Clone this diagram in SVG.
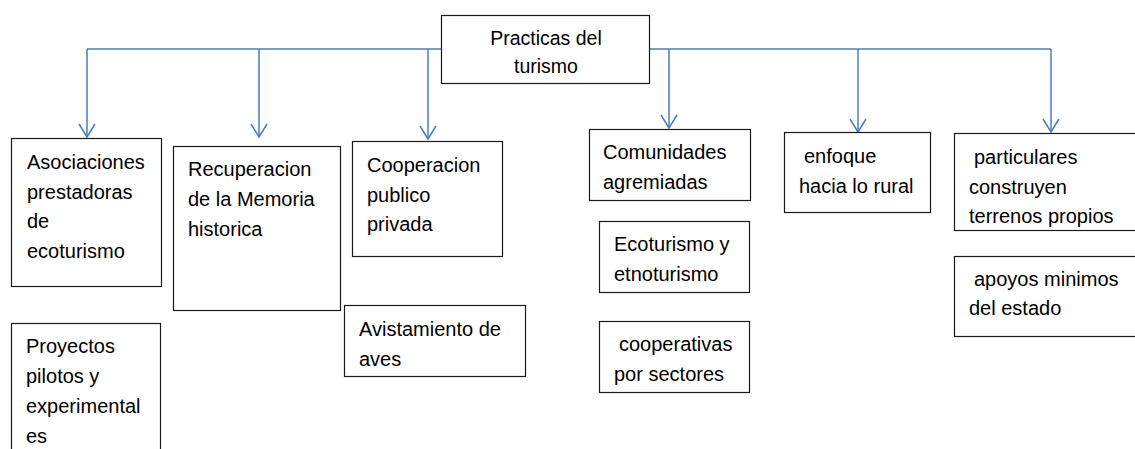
<svg xmlns="http://www.w3.org/2000/svg" width="1135" height="449" viewBox="0 0 1135 449">
<style>
.box{fill:#fff;stroke:#1a1a1a;stroke-width:1.2}
.t{font-family:"Liberation Sans",Arial,sans-serif;font-size:20px;fill:#000}
.c{text-anchor:middle;font-size:19.5px}
.ln{fill:none;stroke:#4a7ebb;stroke-width:1.5}
</style>
<defs>
<marker id="ah" markerUnits="userSpaceOnUse" markerWidth="20" markerHeight="20" refX="0" refY="0" orient="auto" overflow="visible">
<path d="M-13,-8 L0,0 L-13,8" fill="none" stroke="#4a7ebb" stroke-width="1.5"/>
</marker>
</defs>
<rect width="1135" height="449" fill="#fff"/>
<g id="connectors">
<path class="ln" d="M87,49 H441 M650,49 H1051"/>
<path class="ln" d="M87,49 V137" marker-end="url(#ah)"/>
<path class="ln" d="M259,49 V137" marker-end="url(#ah)"/>
<path class="ln" d="M428,49 V139" marker-end="url(#ah)"/>
<path class="ln" d="M669,49 V128" marker-end="url(#ah)"/>
<path class="ln" d="M858,49 V132" marker-end="url(#ah)"/>
<path class="ln" d="M1051,49 V132" marker-end="url(#ah)"/>
</g>
<g id="root">
<rect class="box" x="441.5" y="15.5" width="208" height="68"/>
<text class="t c" x="546" y="45">Practicas del</text>
<text class="t c" x="546" y="73">turismo</text>
</g>
<g id="asociaciones">
<rect class="box" x="11.5" y="138.5" width="150" height="148"/>
<text class="t" x="27" y="169">Asociaciones</text>
<text class="t" x="27" y="199">prestadoras</text>
<text class="t" x="27" y="228">de</text>
<text class="t" x="27" y="258">ecoturismo</text>
</g>
<g id="proyectos">
<rect class="box" x="11.5" y="323.5" width="149" height="140"/>
<text class="t" x="26" y="353">Proyectos</text>
<text class="t" x="26" y="383">pilotos y</text>
<text class="t" x="26" y="413">experimental</text>
<text class="t" x="26" y="443">es</text>
</g>
<g id="recuperacion">
<rect class="box" x="173.5" y="146.5" width="167" height="164"/>
<text class="t" x="188" y="176">Recuperacion</text>
<text class="t" x="188" y="206">de la Memoria</text>
<text class="t" x="188" y="236">historica</text>
</g>
<g id="cooperacion">
<rect class="box" x="352.5" y="141.5" width="150" height="115"/>
<text class="t" x="367" y="172">Cooperacion</text>
<text class="t" x="367" y="202">publico</text>
<text class="t" x="367" y="231">privada</text>
</g>
<g id="avistamiento">
<rect class="box" x="344.5" y="305.5" width="181" height="71"/>
<text class="t" x="359" y="336">Avistamiento de</text>
<text class="t" x="359" y="366">aves</text>
</g>
<g id="comunidades">
<rect class="box" x="589.5" y="129.5" width="161" height="71"/>
<text class="t" x="603" y="159">Comunidades</text>
<text class="t" x="603" y="189">agremiadas</text>
</g>
<g id="ecoturismo">
<rect class="box" x="599.5" y="221.5" width="150" height="71"/>
<text class="t" x="614" y="251">Ecoturismo y</text>
<text class="t" x="614" y="281">etnoturismo</text>
</g>
<g id="cooperativas">
<rect class="box" x="599.5" y="321.5" width="150" height="71"/>
<text class="t" x="619" y="351">cooperativas</text>
<text class="t" x="614" y="381">por sectores</text>
</g>
<g id="enfoque">
<rect class="box" x="784.5" y="132.5" width="146" height="80"/>
<text class="t" x="804" y="163">enfoque</text>
<text class="t" x="799" y="193">hacia lo rural</text>
</g>
<g id="particulares">
<rect class="box" x="954.5" y="133.5" width="190" height="97"/>
<text class="t" x="974" y="164">particulares</text>
<text class="t" x="969" y="194">construyen</text>
<text class="t" x="969" y="223">terrenos propios</text>
</g>
<g id="apoyos">
<rect class="box" x="954.5" y="256.5" width="190" height="80"/>
<text class="t" x="974" y="286">apoyos minimos</text>
<text class="t" x="969" y="315">del estado</text>
</g>
</svg>
